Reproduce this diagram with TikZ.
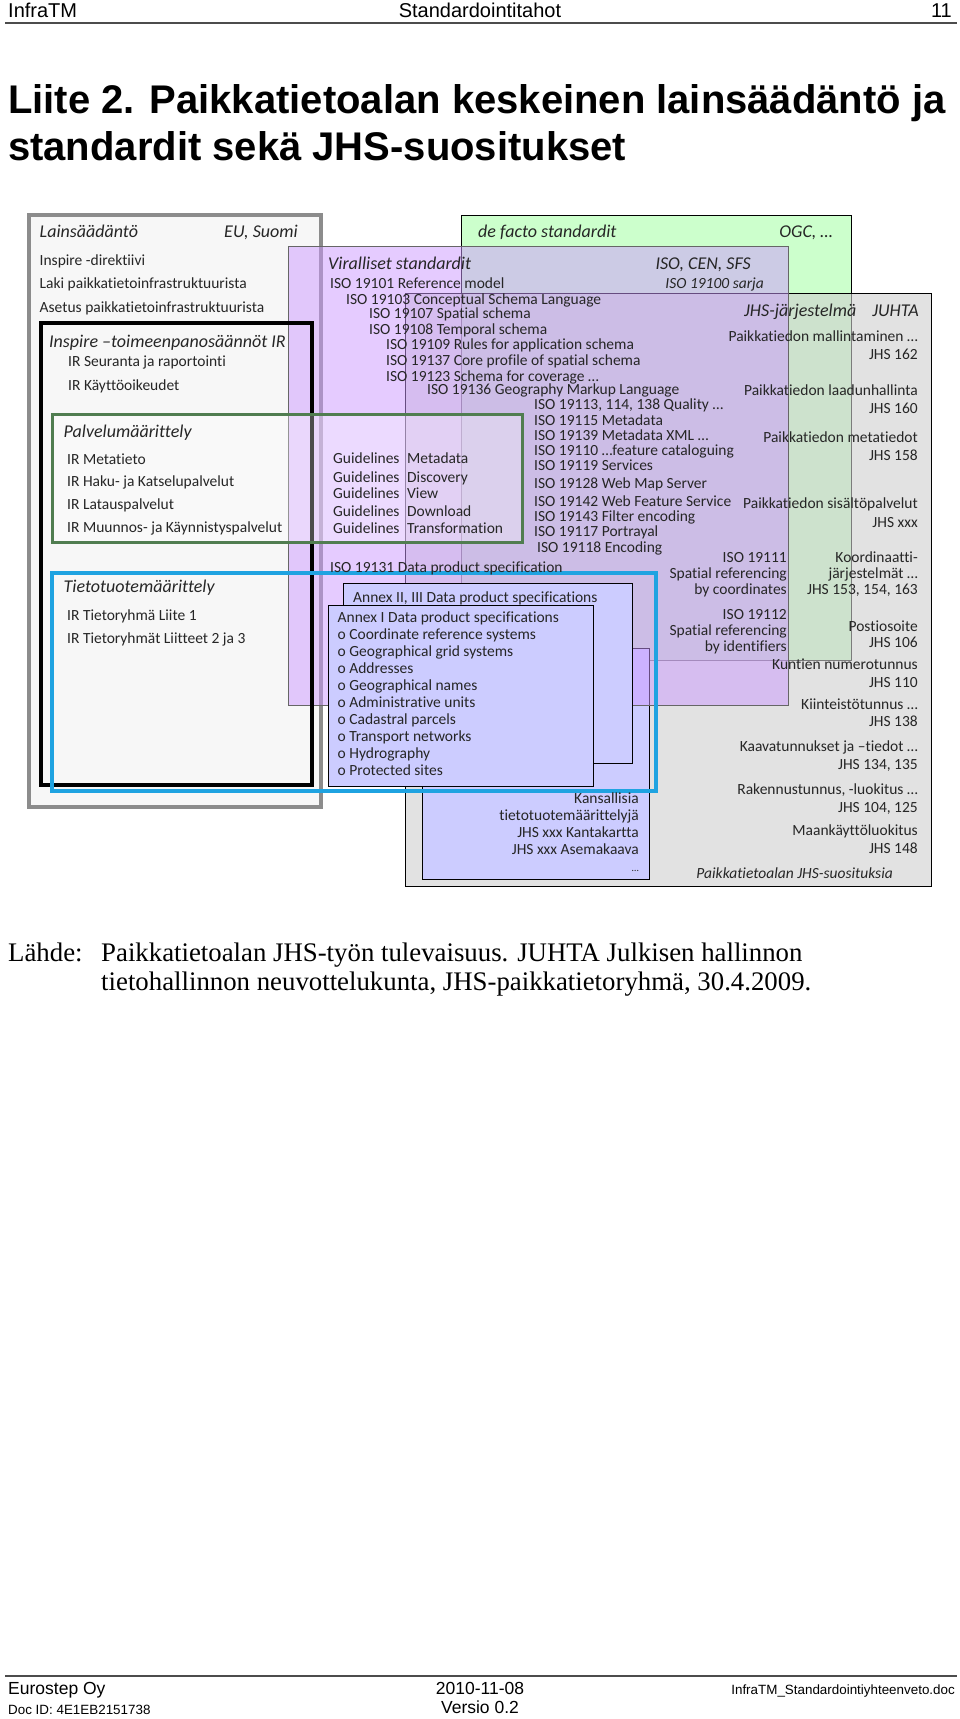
\documentclass[tikz,border=0pt]{standalone}
\usepackage{fontspec}
\setmainfont{Liberation Serif}
\newfontfamily\arialfont{Liberation Sans}
\newfontfamily\calfont[Ligatures=NoCommon]{Carlito}
\usetikzlibrary{positioning}

\definecolor{lakifill}{HTML}{F7F7F7}
\definecolor{lakiedge}{HTML}{8C8C8C}
\definecolor{defactofill}{HTML}{CCFFCC}
\definecolor{jhsfill}{HTML}{CFCFCF}
\definecolor{virfill}{HTML}{CC99FF}
\definecolor{annexfill}{HTML}{CCCCFF}
\definecolor{palvedge}{HTML}{507D50}
\definecolor{tietoedge}{HTML}{1FA3E1}
\definecolor{ink}{HTML}{262626}

\begin{document}
\begin{tikzpicture}[x=1pt,y=-1pt]
  \tikzstyle{item} = [font=\calfont\fontsize{15.5}{17}\selectfont, text=ink, inner sep=0pt, anchor=base west]
  \tikzstyle{itemr} = [item, anchor=base east]
  \tikzstyle{head} = [font=\calfont\itshape\fontsize{18}{20}\selectfont, text=ink, inner sep=0pt, anchor=base west]
  \tikzstyle{headr} = [head, anchor=base east]
  \tikzstyle{subhead} = [item, font=\calfont\itshape\fontsize{15.5}{17}\selectfont, anchor=base east]
  \tikzstyle{page} = [font=\arialfont\fontsize{20}{22}\selectfont, inner sep=0pt]
  \tikzstyle{title} = [font=\arialfont\bfseries\fontsize{40}{46}\selectfont, inner sep=0pt, anchor=base west]
  \tikzstyle{source} = [font=\fontsize{26.8}{30}\selectfont, inner sep=0pt, anchor=base west]
  \tikzstyle{foot} = [font=\arialfont\fontsize{17.5}{20}\selectfont, inner sep=0pt]
  \tikzstyle{footsmall} = [font=\arialfont\fontsize{13.4}{15}\selectfont, inner sep=0pt]
  \tikzstyle{plain} = [draw=black, line width=1pt]

  \fill[white] (0,0) rectangle (960,1719);
  \useasboundingbox (0,0) rectangle (960,1719);

  % page header
  \node[page, anchor=base west] (hdrl) at (8,17) {InfraTM};
  \node[page, anchor=base] (hdrc) at (480,17) {Standardointitahot};
  \node[page, anchor=base east] (hdrr) at (952,17) {11};
  \draw[line width=1.2pt, black!70] (5,23) -- (957,23);

  \node[title] (title1) at (8,113) {Liite 2. Paikkatietoalan keskeinen lainsäädäntö ja};
  \node[title] (title2) at (8,160) {standardit sekä JHS-suositukset};

  % boxes
  \filldraw[fill=lakifill, draw=lakiedge, line width=4pt] (29,215) rectangle (321,807);
  \filldraw[plain, fill=defactofill] (461,215) rectangle (851,660);
  \filldraw[plain, fill=jhsfill, fill opacity=0.6] (405,293) rectangle (931,886);
  \filldraw[plain, fill=annexfill] (422,648) rectangle (649,879);
  \filldraw[fill=virfill, fill opacity=0.5, draw=black!60, line width=0.8pt] (288,246) rectangle (788,705);
  \draw[line width=3.5pt] (41,323) rectangle (312,785);
  \filldraw[fill=white, fill opacity=0.3, draw=palvedge, line width=3pt] (52,414) rectangle (522,542);
  \draw[tietoedge, line width=4pt] (52,573) rectangle (656,791);
  \filldraw[plain, fill=annexfill] (343,583) rectangle (632,763);
  \filldraw[plain, fill=annexfill] (328,605) rectangle (593,786);

  % Lainsäädäntö
  \node[head] (laki) at (39.5,237) {Lainsäädäntö};
  \node[headr] (eu) at (298,237) {EU, Suomi};
  \foreach \t [count=\i] in {Inspire -direktiivi, Laki paikkatietoinfrastruktuurista, Asetus paikkatietoinfrastruktuurista}
    \node[item] (laki\i) at (39.5,{265+23.5*(\i-1)}) {\t};
  \node[head] (inspire) at (49,347) {Inspire –toimeenpanosäännöt IR};
  \foreach \t [count=\i] in {IR Seuranta ja raportointi, IR Käyttöoikeudet}
    \node[item] (inspire\i) at (68,{366+24*(\i-1)}) {\t};
  \node[head] (palvelu) at (63.5,437) {Palvelumäärittely};
  \foreach \t [count=\i] in {IR Metatieto, IR Haku- ja Katselupalvelut, IR Latauspalvelut, IR Muunnos- ja Käynnistyspalvelut}
    \node[item] (palvelu\i) at (67,{464+22.7*(\i-1)}) {\t};
  \node[head] (tieto) at (63.5,592) {Tietotuotemäärittely};
  \foreach \t [count=\i] in {IR Tietoryhmä Liite 1, IR Tietoryhmät Liitteet 2 ja 3}
    \node[item] (tieto\i) at (67,{620+23*(\i-1)}) {\t};

  % de facto
  \node[head] (defacto) at (478,237) {de facto standardit};
  \node[headr] (ogc) at (833,237) {OGC, …};

  % Viralliset standardit
  \node[head] (viral) at (328,269) {Viralliset standardit};
  \node[headr] (cen) at (751,269) {ISO, CEN, SFS};
  \node[subhead] (sarja) at (764,288) {ISO 19100 sarja};
  \foreach \x/\y/\t [count=\i] in {330/288/ISO 19101 Reference model, 346/304/ISO 19103 Conceptual Schema Language,
      369/318/ISO 19107 Spatial schema, 369/334/ISO 19108 Temporal schema,
      386/349/ISO 19109 Rules for application schema, 386/365/ISO 19137 Core profile of spatial schema,
      386/381/ISO 19123 Schema for coverage …, 427/394/ISO 19136 Geography Markup Language,
      534/409/{ISO 19113, 114, 138 Quality …}, 534/425/ISO 19115 Metadata, 534/440/ISO 19139 Metadata XML …,
      534/455/ISO 19110 …feature cataloguing, 534/470/ISO 19119 Services, 534/488/ISO 19128 Web Map Server,
      534/506/ISO 19142 Web Feature Service, 534/521/ISO 19143 Filter encoding, 534/536/ISO 19117 Portrayal,
      537/552/ISO 19118 Encoding, 330/572/ISO 19131 Data product specification}
    \node[item] (iso\i) at (\x,\y) {\t};
  \foreach \t/\y [count=\i] in {Metadata/463, Discovery/482, View/498, Download/516, Transformation/533} {
    \node[item] (guide\i) at (333,\y) {Guidelines};
    \node[item] (guidet\i) at (407,\y) {\t};
  }
  \foreach \t/\y [count=\i] in {ISO 19111/562, Spatial referencing/578, by coordinates/594,
      ISO 19112/619, Spatial referencing/635, by identifiers/651}
    \node[itemr] (ref\i) at (787,\y) {\t};

  % JHS
  \node[head] (jhshead) at (744,316) {JHS-järjestelmä};
  \node[headr] (juhta) at (919,316) {JUHTA};
  \foreach \t/\y [count=\i] in {Paikkatiedon mallintaminen …/341, JHS 162/359,
      Paikkatiedon laadunhallinta/395, JHS 160/413, Paikkatiedon metatiedot/442, JHS 158/460,
      Paikkatiedon sisältöpalvelut/508, JHS xxx/527, Koordinaatti-/562, järjestelmät …/578,
      {JHS 153, 154, 163}/594, Postiosoite/631, JHS 106/647, Kuntien numerotunnus/669, JHS 110/687,
      Kiinteistötunnus …/709, JHS 138/726, Kaavatunnukset ja –tiedot …/751, {JHS 134, 135}/769,
      {Rakennustunnus, -luokitus …}/794, {JHS 104, 125}/812, Maankäyttöluokitus/835, JHS 148/853}
    \node[itemr] (jhs\i) at (918,\y) {\t};
  \node[subhead] (suositus) at (893,878) {Paikkatietoalan JHS-suosituksia};

  % annex boxes
  \node[item] (annex2) at (353,602) {Annex II, III Data product specifications};
  \node[item] (annex1) at (337.5,622) {Annex I Data product specifications};
  \foreach \t [count=\i] in {Coordinate reference systems, Geographical grid systems, Addresses,
      Geographical names, Administrative units, Cadastral parcels, Transport networks, Hydrography, Protected sites}
    \node[item] (annex1\i) at (337.5,{639+17*(\i-1)}) {o \t};
  \foreach \t/\y [count=\i] in {Kansallisia/803, tietotuotemäärittelyjä/820, JHS xxx Kantakartta/837,
      JHS xxx Asemakaava/854}
    \node[itemr] (kans\i) at (639,\y) {\t};
  \node[itemr, font=\calfont\fontsize{10}{12}\selectfont] (kansdots) at (639,871) {…};

  % source
  \node[source] (lahde) at (8,961) {Lähde:};
  \node[source] (src1) at (101,961) {Paikkatietoalan JHS-työn tulevaisuus. JUHTA Julkisen hallinnon};
  \node[source] (src2) at (101,990) {tietohallinnon neuvottelukunta, JHS-paikkatietoryhmä, 30.4.2009.};

  % page footer
  \draw[line width=1.2pt, black!70] (5,1676) -- (957,1676);
  \node[foot, anchor=base west] (ftl) at (8,1694) {Eurostep Oy};
  \node[footsmall, anchor=base west] (docid) at (8,1714) {Doc ID: 4E1EB2151738};
  \node[foot, anchor=base] (date) at (480,1694) {2010-11-08};
  \node[foot, anchor=base] (versio) at (480,1713) {Versio 0.2};
  \node[footsmall, anchor=base east] (file) at (955,1694) {InfraTM\_Standardointiyhteenveto.doc};
\end{tikzpicture}
\end{document}
